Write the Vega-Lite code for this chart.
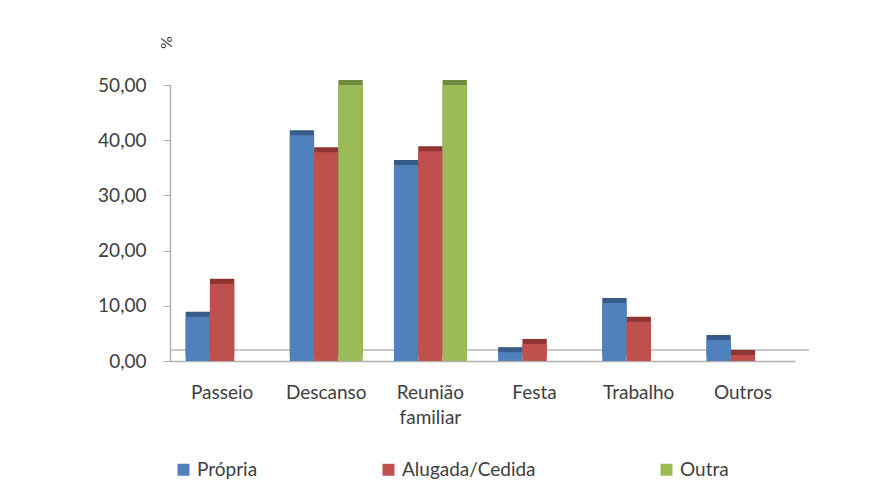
{
  "$schema": "https://vega.github.io/schema/vega-lite/v6.json",
  "width": 625,
  "height": 276,
  "autosize": "none",
  "padding": {"left": 170, "top": 85, "right": 89, "bottom": 140},
  "background": "white",
  "config": {
    "font": "Lato",
    "view": {"stroke": null},
    "axis": {"labelFont": "Lato", "titleFont": "Lato", "labelColor": "#404040", "titleColor": "#404040"}
  },
  "datasets": {
    "dados": [
      {"atividade": "Passeio", "tipo": "Própria", "valor": 8.0},
      {"atividade": "Passeio", "tipo": "Alugada/Cedida", "valor": 14.0},
      {"atividade": "Passeio", "tipo": "Outra", "valor": 0.0},
      {"atividade": "Descanso", "tipo": "Própria", "valor": 40.9},
      {"atividade": "Descanso", "tipo": "Alugada/Cedida", "valor": 37.8},
      {"atividade": "Descanso", "tipo": "Outra", "valor": 50.0},
      {"atividade": "Reunião familiar", "tipo": "Própria", "valor": 35.5},
      {"atividade": "Reunião familiar", "tipo": "Alugada/Cedida", "valor": 38.0},
      {"atividade": "Reunião familiar", "tipo": "Outra", "valor": 50.0},
      {"atividade": "Festa", "tipo": "Própria", "valor": 1.6},
      {"atividade": "Festa", "tipo": "Alugada/Cedida", "valor": 3.1},
      {"atividade": "Festa", "tipo": "Outra", "valor": 0.0},
      {"atividade": "Trabalho", "tipo": "Própria", "valor": 10.5},
      {"atividade": "Trabalho", "tipo": "Alugada/Cedida", "valor": 7.1},
      {"atividade": "Trabalho", "tipo": "Outra", "valor": 0.0},
      {"atividade": "Outros", "tipo": "Própria", "valor": 3.8},
      {"atividade": "Outros", "tipo": "Alugada/Cedida", "valor": 1.1},
      {"atividade": "Outros", "tipo": "Outra", "valor": 0.0}
    ],
    "base": [{"nivel": 0}]
  },
  "layer": [
    {
      "data": {"name": "base"},
      "mark": {"type": "rule", "yOffset": -11, "xOffset": 14, "x2Offset": 14, "color": "#b8b8b8", "strokeWidth": 1.5},
      "encoding": {
        "y": {
          "field": "nivel",
          "type": "quantitative",
          "scale": {"domain": [0, 50], "nice": false},
          "axis": {
            "title": "%",
            "titleAngle": -90,
            "titleFontSize": 16,
            "titleFontWeight": "normal",
            "titleX": 4,
            "titleY": -43,
            "titleAlign": "center",
            "values": [0, 10, 20, 30, 40, 50],
            "format": ".2f",
            "labelExpr": "replace(datum.label, '.', ',')",
            "labelFontSize": 19,
            "labelPadding": 17,
            "ticks": true,
            "tickSize": 7,
            "tickColor": "#b0b0b0",
            "domainColor": "#b0b0b0",
            "domainWidth": 1.5,
            "grid": false
          }
        }
      }
    },
    {
      "data": {"name": "dados"},
      "mark": {"type": "bar", "xOffset": 5, "yOffset": -5},
      "encoding": {
        "x": {
          "field": "atividade",
          "type": "nominal",
          "sort": ["Passeio", "Descanso", "Reunião familiar", "Festa", "Trabalho", "Outros"],
          "scale": {"paddingInner": 0.3, "paddingOuter": 0.15},
          "axis": {
            "title": null,
            "labelAngle": 0,
            "labelFontSize": 19,
            "labelPadding": 22,
            "ticks": false,
            "domainColor": "#b0b0b0",
            "domainWidth": 1.5,
            "labelExpr": "datum.label == 'Reunião familiar' ? ['Reunião', 'familiar'] : datum.label",
            "labelLineHeight": 25
          }
        },
        "xOffset": {"field": "tipo", "type": "nominal", "sort": ["Própria", "Alugada/Cedida", "Outra"]},
        "y": {"field": "valor", "type": "quantitative", "scale": {"domain": [0, 50], "nice": false}},
        "color": {
          "field": "tipo",
          "type": "nominal",
          "scale": {"domain": ["Própria", "Alugada/Cedida", "Outra"], "range": ["#375C89", "#8E3533", "#6F8A3C"]},
          "legend": null
        }
      }
    },
    {
      "data": {"name": "dados"},
      "mark": {"type": "bar"},
      "encoding": {
        "x": {
          "field": "atividade",
          "type": "nominal",
          "sort": ["Passeio", "Descanso", "Reunião familiar", "Festa", "Trabalho", "Outros"],
          "scale": {"paddingInner": 0.3, "paddingOuter": 0.15}
        },
        "xOffset": {"field": "tipo", "type": "nominal", "sort": ["Própria", "Alugada/Cedida", "Outra"]},
        "y": {"field": "valor", "type": "quantitative", "scale": {"domain": [0, 50], "nice": false}},
        "color": {
          "field": "tipo",
          "type": "nominal",
          "scale": {"domain": ["Própria", "Alugada/Cedida", "Outra"], "range": ["#4F81BD", "#C0504D", "#9BBB59"]},
          "legend": {
            "title": null,
            "orient": "none",
            "legendX": 4,
            "legendY": 375,
            "direction": "horizontal",
            "columns": 3,
            "columnPadding": 121,
            "symbolType": "square",
            "symbolSize": 144,
            "symbolStrokeWidth": 0,
            "labelFontSize": 19,
            "labelColor": "#404040",
            "labelFont": "Lato",
            "labelOffset": 4
          }
        }
      }
    }
  ],
  "resolve": {"scale": {"color": "independent"}, "legend": {"color": "independent"}}
}
